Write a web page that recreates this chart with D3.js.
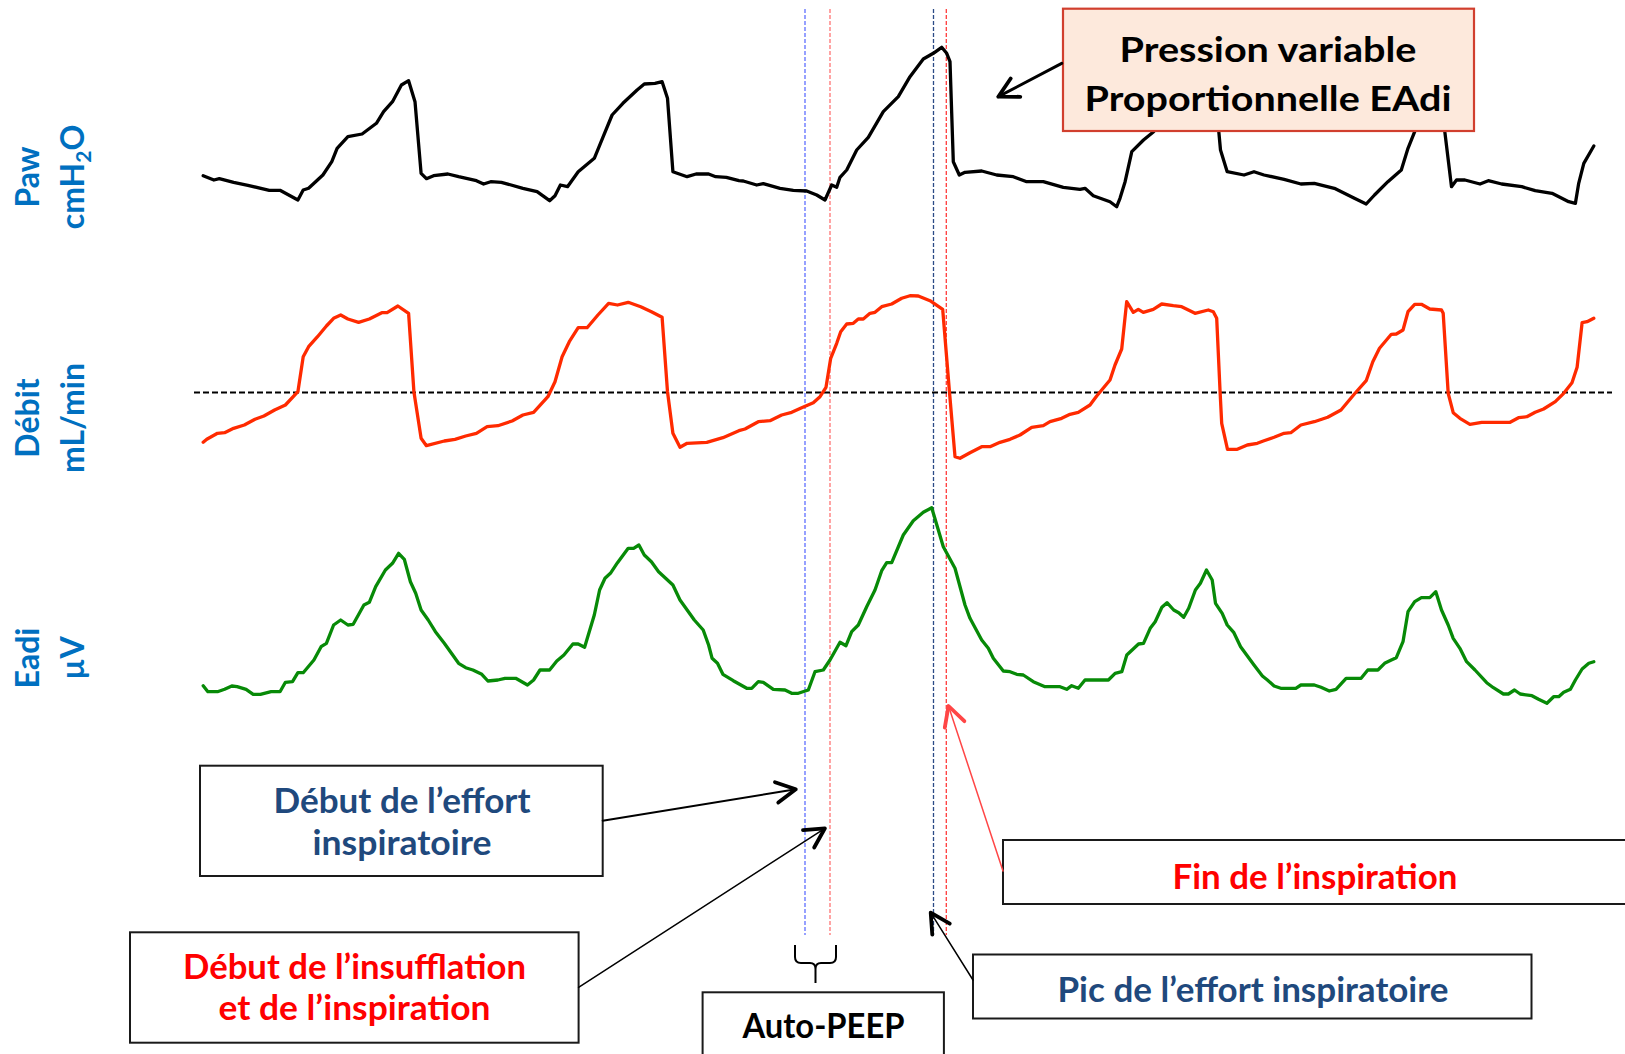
<!DOCTYPE html>
<html>
<head>
<meta charset="utf-8">
<script src="https://cdn.jsdelivr.net/npm/d3@7"></script>
<style>
  html, body { margin: 0; padding: 0; background: #ffffff; }
  svg { display: block; }
</style>
</head>
<body>
<svg id="chart" width="1625" height="1054"></svg>
<script>
// ---------------------------------------------------------------
// Recorded signals: [time (s), value]
// ---------------------------------------------------------------

// Airway pressure, cmH2O
const pawSamples = [
  [0.032,4.43],[0.139,4.00],[0.193,4.13],[0.336,3.77],[0.479,3.47],[0.693,2.97],[0.80,2.97],
  [0.979,2.00],[1.032,3.00],[1.086,3.17],[1.229,4.50],[1.318,5.83],[1.371,7.17],[1.479,8.33],
  [1.621,8.60],[1.764,9.67],[1.836,10.83],[1.925,11.83],[2.014,13.50],[2.086,13.93],[2.15,11.83],
  [2.211,4.67],[2.264,4.13],[2.336,4.43],[2.479,4.60],[2.586,4.33],[2.764,3.93],[2.836,3.60],
  [2.907,3.83],[3.014,3.77],[3.229,3.17],[3.371,2.83],[3.496,1.93],[3.55,2.43],[3.604,3.50],
  [3.675,3.33],[3.782,4.83],[3.943,6.17],[4.032,8.33],[4.121,10.50],[4.229,11.67],[4.371,13.00],
  [4.443,13.60],[4.55,13.67],[4.621,13.83],[4.675,12.17],[4.729,4.83],[4.871,4.33],[4.961,4.60],
  [5.086,4.60],[5.157,4.33],[5.264,4.27],[5.389,3.93],[5.433,3.90],[5.567,3.50],[5.633,3.63],
  [5.80,3.17],[5.933,2.97],[6.067,2.90],[6.167,2.50],[6.25,2.00],[6.317,3.50],[6.367,3.27],
  [6.40,4.27],[6.467,5.00],[6.567,7.00],[6.683,8.27],[6.833,10.83],[6.983,12.33],[7.10,14.33],
  [7.233,16.10],[7.333,16.67],[7.417,17.27],[7.467,16.67],[7.50,15.83],[7.533,5.83],[7.593,4.50],
  [7.65,4.77],[7.817,4.90],[7.967,4.50],[8.133,4.33],[8.267,3.83],[8.433,3.83],[8.633,3.27],
  [8.80,3.07],[8.85,3.17],[8.933,2.43],[9.10,1.83],[9.167,1.33],[9.20,2.17],[9.251,3.83],
  [9.318,6.83],[9.435,8.00],[9.536,8.83],[9.68,10.5],[9.83,12.2],[9.98,13.4],[10.10,13.6],
  [10.15,12.0],[10.188,8.83],[10.205,7.00],[10.272,4.83],[10.44,4.50],[10.54,4.83],[10.64,4.50],
  [10.841,4.07],[11.009,3.60],[11.143,3.67],[11.343,3.17],[11.544,2.17],[11.662,1.60],[11.745,2.50],
  [11.879,3.83],[12.013,5.00],[12.08,7.17],[12.147,8.83],[12.22,11.5],[12.32,13.2],[12.40,13.4],
  [12.448,8.83],[12.515,3.33],[12.565,4.00],[12.649,4.00],[12.80,3.60],[12.883,3.93],[13.017,3.60],
  [13.218,3.33],[13.352,2.93],[13.52,2.67],[13.687,1.83],[13.754,1.67],[13.787,3.67],[13.838,5.67],
  [13.938,7.40]
];

// Flow
const flowSamples = [
  [0.032,-4.98],[0.068,-4.68],[0.175,-4.08],[0.246,-4.02],[0.336,-3.58],[0.443,-3.25],[0.55,-2.68],
  [0.639,-2.35],[0.746,-1.75],[0.854,-1.25],[0.979,0.08],[1.032,3.58],[1.086,4.58],[1.175,5.58],
  [1.264,6.65],[1.336,7.42],[1.407,7.75],[1.479,7.35],[1.586,7.02],[1.693,7.35],[1.818,7.98],
  [1.871,7.98],[1.979,8.65],[2.086,7.92],[2.139,0.08],[2.211,-4.58],[2.264,-5.32],[2.443,-4.85],
  [2.55,-4.68],[2.657,-4.35],[2.764,-4.08],[2.871,-3.42],[2.979,-3.32],[3.121,-2.85],[3.229,-2.25],
  [3.336,-1.98],[3.479,-0.42],[3.55,1.08],[3.621,3.58],[3.693,5.08],[3.782,6.48],[3.871,6.48],
  [3.979,7.75],[4.086,8.92],[4.175,8.75],[4.282,9.02],[4.407,8.58],[4.514,8.08],[4.621,7.52],
  [4.675,0.08],[4.729,-4.08],[4.80,-5.48],[4.871,-5.08],[5.068,-4.98],[5.229,-4.52],[5.389,-3.82],
  [5.45,-3.65],[5.583,-2.92],[5.70,-2.82],[5.817,-2.25],[5.917,-1.98],[6.017,-1.52],[6.133,-1.02],
  [6.20,-0.42],[6.26,0.52],[6.307,3.42],[6.367,4.92],[6.407,6.08],[6.467,6.85],[6.533,6.92],
  [6.583,7.35],[6.633,7.35],[6.70,7.92],[6.75,8.02],[6.817,8.58],[6.917,8.85],[7.017,9.42],
  [7.10,9.68],[7.183,9.65],[7.30,9.18],[7.427,8.32],[7.493,0.25],[7.55,-6.42],[7.60,-6.58],
  [7.70,-6.02],[7.817,-5.42],[7.90,-5.42],[8.00,-4.98],[8.10,-4.68],[8.20,-4.25],[8.317,-3.48],
  [8.433,-3.32],[8.50,-2.92],[8.617,-2.58],[8.70,-2.18],[8.783,-1.98],[8.90,-1.25],[8.967,-0.35],
  [9.10,1.25],[9.15,2.75],[9.217,4.35],[9.267,9.08],[9.333,8.02],[9.383,8.32],[9.433,8.02],
  [9.533,8.32],[9.617,8.85],[9.733,8.68],[9.817,8.58],[9.95,7.92],[10.083,8.25],[10.133,8.08],
  [10.167,7.42],[10.20,0.25],[10.217,-3.08],[10.275,-5.68],[10.373,-5.68],[10.473,-5.25],
  [10.573,-5.08],[10.64,-4.82],[10.741,-4.48],[10.841,-4.08],[10.908,-4.02],[11.009,-3.25],
  [11.143,-2.92],[11.277,-2.48],[11.41,-1.75],[11.544,-0.15],[11.662,1.18],[11.728,3.08],
  [11.795,4.42],[11.913,5.82],[11.963,5.85],[12.03,6.25],[12.08,8.08],[12.147,8.82],[12.214,8.82],
  [12.298,8.35],[12.415,8.25],[12.432,7.92],[12.482,-0.08],[12.532,-2.02],[12.599,-2.58],
  [12.699,-3.18],[12.817,-2.98],[13.101,-2.98],[13.185,-2.52],[13.268,-2.42],[13.352,-1.98],
  [13.436,-1.65],[13.553,-0.92],[13.637,-0.08],[13.72,0.98],[13.771,2.52],[13.821,6.98],
  [13.871,7.08],[13.938,7.42]
];

// Diaphragm electrical activity, µV
const eadiSamples = [
  [0.032,1.43],[0.079,0.83],[0.175,0.83],[0.246,1.07],[0.318,1.40],[0.371,1.33],[0.461,1.07],
  [0.532,0.57],[0.604,0.57],[0.711,0.83],[0.80,0.83],[0.854,1.77],[0.925,1.83],[0.979,2.73],
  [1.032,2.73],[1.139,4.00],[1.211,5.33],[1.264,5.67],[1.336,7.50],[1.407,8.00],[1.479,7.50],
  [1.532,7.57],[1.639,9.50],[1.693,9.77],[1.757,11.33],[1.854,13.00],[1.925,13.67],[1.986,14.67],
  [2.043,14.07],[2.104,11.83],[2.157,10.67],[2.211,9.00],[2.282,8.00],[2.354,6.83],[2.443,5.67],
  [2.586,3.67],[2.657,3.23],[2.729,3.00],[2.818,2.57],[2.879,1.90],[2.979,2.00],[3.05,2.17],
  [3.157,2.17],[3.275,1.50],[3.336,2.00],[3.40,3.00],[3.496,3.00],[3.568,3.90],[3.639,4.50],
  [3.729,5.60],[3.782,5.60],[3.846,5.27],[3.943,8.50],[3.996,11.00],[4.05,12.17],[4.104,12.67],
  [4.175,13.73],[4.282,15.17],[4.336,15.17],[4.389,15.50],[4.443,14.50],[4.514,13.83],[4.586,12.83],
  [4.729,11.50],[4.80,10.00],[4.943,8.00],[5.032,7.00],[5.086,5.50],[5.121,4.17],[5.175,3.67],
  [5.229,2.57],[5.333,1.93],[5.467,1.17],[5.517,1.17],[5.583,1.83],[5.633,1.77],[5.733,1.07],
  [5.85,1.00],[5.917,0.67],[5.983,0.67],[6.083,1.00],[6.15,2.83],[6.233,3.00],[6.30,4.00],
  [6.40,5.77],[6.46,5.43],[6.517,6.83],[6.583,7.50],[6.667,9.33],[6.75,11.00],[6.817,12.93],
  [6.867,13.73],[6.917,13.73],[7.033,16.50],[7.133,17.93],[7.233,18.77],[7.317,19.23],[7.433,15.33],
  [7.55,13.17],[7.65,9.50],[7.70,8.17],[7.817,6.00],[7.883,5.17],[7.933,4.17],[8.033,2.90],
  [8.10,2.83],[8.167,2.57],[8.233,2.50],[8.333,1.83],[8.45,1.33],[8.60,1.33],[8.667,1.07],
  [8.717,1.43],[8.783,1.17],[8.85,2.00],[9.084,2.00],[9.151,2.67],[9.218,2.83],[9.268,4.50],
  [9.385,5.60],[9.435,5.67],[9.502,7.17],[9.552,7.83],[9.619,9.27],[9.67,9.73],[9.737,9.00],
  [9.787,8.73],[9.837,8.27],[9.887,9.17],[9.954,11.00],[10.004,11.67],[10.065,13.00],[10.122,12.00],
  [10.155,9.67],[10.222,8.67],[10.272,7.50],[10.339,6.73],[10.406,5.33],[10.54,3.50],[10.624,2.40],
  [10.674,2.00],[10.741,1.40],[10.808,1.17],[10.958,1.17],[11.009,1.50],[11.143,1.50],[11.21,1.27],
  [11.293,0.90],[11.36,1.07],[11.461,2.17],[11.611,2.17],[11.678,3.00],[11.779,3.00],[11.846,3.67],
  [11.913,4.00],[11.963,4.23],[12.03,5.83],[12.08,8.83],[12.147,9.83],[12.214,10.23],[12.298,10.23],
  [12.358,10.83],[12.415,9.00],[12.482,7.50],[12.532,6.17],[12.599,5.17],[12.666,3.83],[12.75,3.00],
  [12.867,1.73],[12.934,1.23],[13.034,0.60],[13.084,0.60],[13.145,1.00],[13.202,0.60],[13.319,0.43],
  [13.386,0.07],[13.469,-0.33],[13.536,0.33],[13.587,0.33],[13.637,0.77],[13.704,1.07],[13.754,2.00],
  [13.821,3.10],[13.888,3.67],[13.938,3.83]
];

// Event times (s): effort onset, insufflation onset, effort peak, end of inspiration
const markerTimes = [6.05, 6.30, 7.335, 7.463];

// Time span of the zero-flow reference
const zeroFlowSpan = [-0.06, 14.12];

// Channel titles (two lines each)
const channelTitles = [
  ["Paw", "cmH₂O"],
  ["Débit", "mL/min"],
  ["Eadi", "µV"]
];

// ---------------------------------------------------------------
// Drawing
// ---------------------------------------------------------------
const svg = d3.select("#chart");
const FONT = "Lato, 'Open Sans', sans-serif";

const x = d3.scaleLinear().domain([0, 14]).range([200, 1600]);
const yPaw = d3.scaleLinear().domain([0, 20]).range([220, 20]);
const yFlow = d3.scaleLinear().domain([-10, 10]).range([492.5, 292.5]);
const yEadi = d3.scaleLinear().domain([0, 20]).range([700, 500]);

// Event markers (drawn beneath the traces)
const markerStyles = [
  { color: "#5f6fff", dash: "4,2" },
  { color: "#ff7373", dash: "4,2" },
  { color: "#2b4a86", dash: "4,2" },
  { color: "#ff3b3b", dash: "4,2" }
];
svg.append("g").selectAll("line")
  .data(markerTimes)
  .join("line")
  .attr("x1", d => x(d)).attr("x2", d => x(d))
  .attr("y1", 9).attr("y2", 935)
  .attr("stroke", (d, i) => markerStyles[i].color)
  .attr("stroke-width", 1.3)
  .attr("stroke-dasharray", (d, i) => markerStyles[i].dash);

// Zero-flow reference
svg.append("line")
  .attr("x1", x(zeroFlowSpan[0])).attr("x2", x(zeroFlowSpan[1]))
  .attr("y1", yFlow(0)).attr("y2", yFlow(0))
  .attr("stroke", "#000").attr("stroke-width", 1.8)
  .attr("stroke-dasharray", "6,3");

// Traces
const traces = [
  { data: pawSamples, y: yPaw, color: "#000000" },
  { data: flowSamples, y: yFlow, color: "#ff2a00" },
  { data: eadiSamples, y: yEadi, color: "#078a07" }
];
traces.forEach(tr => {
  const line = d3.line().x(d => x(d[0])).y(d => tr.y(d[1]));
  svg.append("path")
    .datum(tr.data)
    .attr("d", line)
    .attr("fill", "none")
    .attr("stroke", tr.color)
    .attr("stroke-width", 3.3)
    .attr("stroke-linejoin", "round")
    .attr("stroke-linecap", "round");
});

// Channel titles, rotated along the left edge
const titleCenters = [177, 418, 658];
channelTitles.forEach((pair, i) => {
  const g = svg.append("g")
    .attr("font-family", FONT).attr("font-weight", 700)
    .attr("font-size", 32).attr("fill", "#0070c0")
    .attr("text-anchor", "middle");
  g.append("text")
    .attr("transform", `translate(38.5,${titleCenters[i]}) rotate(-90)`)
    .text(pair[0]);
  const t2 = g.append("text")
    .attr("transform", `translate(84,${titleCenters[i]}) rotate(-90)`);
  const m = pair[1].match(/^(.*?)([₂])(.*)$/);
  if (m) {
    t2.append("tspan").text(m[1]);
    t2.append("tspan").attr("font-size", 21).attr("dy", 7).text("2");
    t2.append("tspan").attr("dy", -7).text(m[3]);
  } else {
    t2.text(pair[1]);
  }
});

// Annotation boxes
const boxes = [
  { x: 1063, y: 8.7, w: 411, h: 122.3, fill: "#fde9dc", stroke: "#d13f2e", sw: 2.2 },
  { x: 200, y: 765.7, w: 402.7, h: 110.3, fill: "#ffffff", stroke: "#1a1a1a", sw: 2 },
  { x: 130, y: 932.3, w: 448.6, h: 110.4, fill: "#ffffff", stroke: "#1a1a1a", sw: 2 },
  { x: 702.6, y: 992.3, w: 241.3, h: 90, fill: "#ffffff", stroke: "#1a1a1a", sw: 2 },
  { x: 1003, y: 840, w: 700, h: 64, fill: "#ffffff", stroke: "#1a1a1a", sw: 2 },
  { x: 973, y: 954.5, w: 558.5, h: 64, fill: "#ffffff", stroke: "#1a1a1a", sw: 2 }
];
svg.append("g").selectAll("rect")
  .data(boxes)
  .join("rect")
  .attr("x", d => d.x).attr("y", d => d.y)
  .attr("width", d => d.w).attr("height", d => d.h)
  .attr("fill", d => d.fill).attr("stroke", d => d.stroke)
  .attr("stroke-width", d => d.sw);

// Annotation texts (cx = centre, len = set width)
const notes = [
  { text: "Pression variable", cx: 1268, y: 62, len: 297, size: 35, color: "#000000" },
  { text: "Proportionnelle EAdi", cx: 1268, y: 111, len: 367, size: 35, color: "#000000" },
  { text: "Début de l’effort", cx: 402, y: 812.7, len: 257, size: 34, color: "#1f497d" },
  { text: "inspiratoire", cx: 402, y: 855, len: 179, size: 34, color: "#1f497d" },
  { text: "Début de l’insufflation", cx: 354.5, y: 979.3, len: 343, size: 34, color: "#ff0000" },
  { text: "et de l’inspiration", cx: 354.5, y: 1020, len: 272, size: 34, color: "#ff0000" },
  { text: "Auto-PEEP", cx: 823.5, y: 1038.3, len: 162, size: 34, color: "#000000" },
  { text: "Fin de l’inspiration", cx: 1315, y: 888.6, len: 285, size: 34, color: "#ff0000" },
  { text: "Pic de l’effort inspiratoire", cx: 1253, y: 1001.5, len: 391, size: 34, color: "#1f497d" }
];
svg.append("g").selectAll("text")
  .data(notes)
  .join("text")
  .attr("x", d => d.cx - d.len / 2).attr("y", d => d.y)
  .attr("textLength", d => d.len)
  .attr("lengthAdjust", "spacingAndGlyphs")
  .attr("font-family", FONT).attr("font-weight", 700).attr("font-size", d => d.size)
  .attr("fill", d => d.color)
  .text(d => d.text);

// Arrows: shaft from tail to tip, open chevron head at the tip
function arrow(tail, tip, color, shaftW, headW) {
  const g = svg.append("g").attr("stroke", color).attr("fill", "none")
    .attr("stroke-linecap", "round").attr("stroke-linejoin", "round");
  g.append("line")
    .attr("x1", tail[0]).attr("y1", tail[1])
    .attr("x2", tip[0]).attr("y2", tip[1])
    .attr("stroke-width", shaftW);
  const back = Math.atan2(tail[1] - tip[1], tail[0] - tip[0]);
  const L = 22, a = 28 * Math.PI / 180;
  const p1 = [tip[0] + L * Math.cos(back + a), tip[1] + L * Math.sin(back + a)];
  const p2 = [tip[0] + L * Math.cos(back - a), tip[1] + L * Math.sin(back - a)];
  g.append("path")
    .attr("d", `M${p1[0]},${p1[1]}L${tip[0]},${tip[1]}L${p2[0]},${p2[1]}`)
    .attr("stroke-width", headW);
}
arrow([1061.7, 63.3], [998.3, 96.7], "#000", 3, 3.8);
arrow([602.7, 820.7], [795.8, 789.3], "#000", 2, 3.8);
arrow([578.6, 987.3], [824.9, 828.3], "#000", 1.5, 3.8);
arrow([973, 980], [930.7, 912.7], "#000", 1.5, 3.8);
arrow([1003, 871], [948.5, 706], "#ff4646", 1.5, 3.8);

// Brace spanning the delay between effort onset and insufflation
svg.append("path")
  .attr("d", "M795,945 L795,957 Q795,963 801,963 L810,963 Q815.5,963 815.5,969 " +
             "L815.5,983 M836,945 L836,957 Q836,963 830,963 L821,963 Q815.5,963 815.5,969")
  .attr("fill", "none").attr("stroke", "#000").attr("stroke-width", 2);
</script>
</body>
</html>
